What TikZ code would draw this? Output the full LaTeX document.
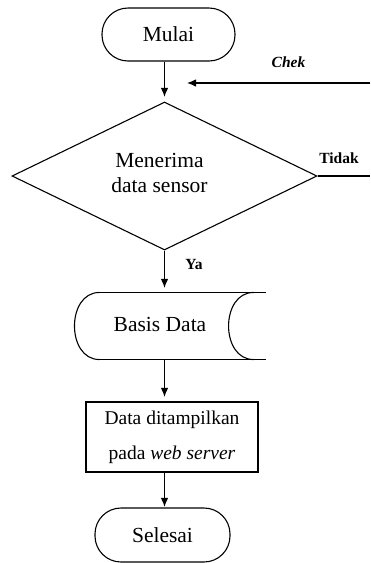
\documentclass[tikz,border=0pt]{standalone}
\usepackage{fontspec}
\setmainfont{Liberation Serif}
\usetikzlibrary{arrows.meta,shapes.geometric}
\begin{document}
\begin{tikzpicture}[x=1pt,y=-1pt,
  line width=1.1pt,
  flow/.style={draw, line width=1.1pt, -{Latex[length=9pt,width=7.5pt]}},
  term/.style={draw, rounded corners=26pt, minimum width=133pt, minimum height=53pt, inner sep=0pt, font=\fontsize{21.5}{25}\selectfont},
  big/.style={font=\fontsize{21.5}{25}\selectfont},
  lbl/.style={font=\fontsize{15.5}{18}\selectfont\bfseries},
]
\useasboundingbox (0,0) rectangle (370,563);
% start
\node[term] (mulai) at (168.5,34.5) {Mulai};
% decision
\node[draw, diamond, minimum width=305pt, minimum height=148pt, inner sep=0pt] (dia) at (164.5,176) {};
\node[big, align=center] (diatext) at (159.5,172.5) {Menerima\\data sensor};
% database
\node[minimum width=190pt, minimum height=66pt, inner sep=0pt] (basis) at (170,326) {};
\draw ([xshift=25pt]basis.north west) -- (basis.north east);
\draw ([xshift=25pt]basis.south west) -- (basis.south east);
\draw ([xshift=25pt]basis.north west) .. controls ([xshift=-8.3pt]basis.north west) and ([xshift=-8.3pt]basis.south west) .. ([xshift=25pt]basis.south west);
\draw ([xshift=-12pt]basis.north east) .. controls ([xshift=-45.3pt]basis.north east) and ([xshift=-45.3pt]basis.south east) .. ([xshift=-12pt]basis.south east);
\node[big] (basistext) at (160,324) {Basis Data};
% process
\node[draw, minimum width=172pt, minimum height=70pt, inner sep=0pt, align=center, font=\fontsize{19.5}{35}\selectfont] (rect) at (172,437) {Data ditampilkan\\pada \textit{web server}};
% end
\node[term, minimum width=135pt, minimum height=54pt] (selesai) at (162.5,535) {Selesai};
% loop ends
\coordinate (chekin) at (370,83);
\coordinate (chekend) at (187,83);
\coordinate (tidakout) at (370,176);
% connectors
\draw[flow, shorten >=4.5pt] (mulai.south -| dia.north) -- (dia.north);
\draw[flow] (chekin) -- (chekend);
\draw (dia.east) -- (tidakout);
\draw[flow, shorten >=4.5pt] (dia.south) -- (dia.south |- basis.north);
\draw[flow, shorten >=4.5pt] (dia.south |- basis.south) -- (dia.south |- rect.north);
\draw[flow, shorten >=0.5pt] (dia.south |- rect.south) -- (dia.south |- selesai.north);
% labels
\node[lbl, font=\fontsize{15.5}{18}\selectfont\bfseries\itshape] (chek) at (288.5,62) {Chek};
\node[lbl] (tidak) at (339,158) {Tidak};
\node[lbl] (ya) at (194,264) {Ya};
\end{tikzpicture}
\end{document}
